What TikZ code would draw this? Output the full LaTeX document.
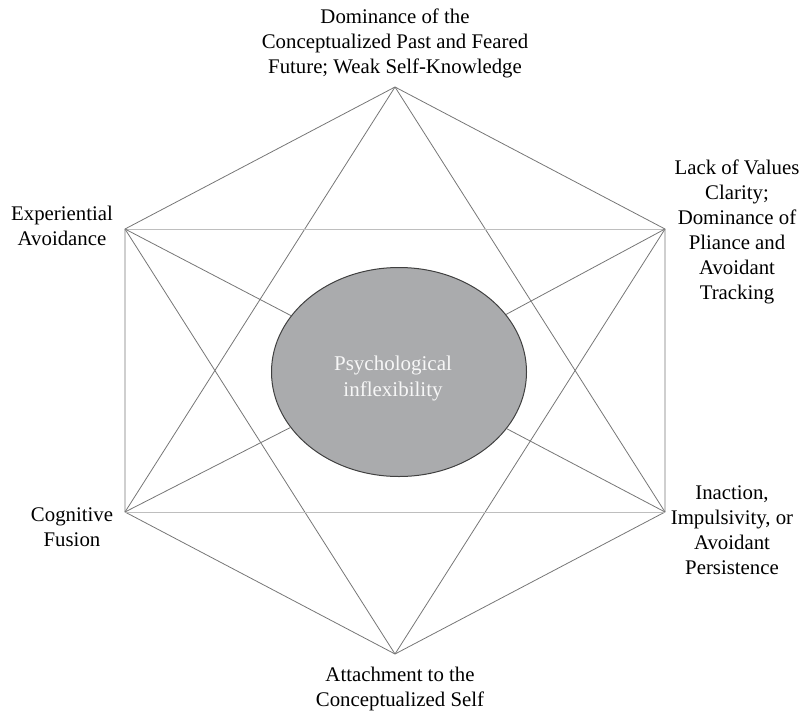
\documentclass[tikz,border=0pt]{standalone}
\usepackage{fontspec}
\setmainfont{Liberation Serif}
\usetikzlibrary{shapes.geometric}
\definecolor{psyfill}{RGB}{170,171,173}
\definecolor{edgegray}{RGB}{118,118,118}
\definecolor{faintgray}{RGB}{190,190,190}
\begin{document}
\begin{tikzpicture}[x=1pt,y=-1pt]

    \tikzstyle{edge}=[draw=edgegray, line width=0.8pt]
    \tikzstyle{faint}=[draw=faintgray, line width=1pt]
    \tikzstyle{lbl}=[align=center, inner sep=0pt, font=\fontsize{20.8}{25}\selectfont]
    \tikzstyle{core}=[ellipse, draw=black!75, line width=1pt, fill=psyfill, minimum width=255pt, minimum height=209pt, inner sep=0pt]
    \tikzstyle{coretxt}=[align=center, inner sep=0pt, text=white!94!gray, font=\fontsize{21}{26}\selectfont]

    \useasboundingbox (0,0) rectangle (805,712);

    % corners of the hexagon
    \coordinate (dom) at (395,87);
    \coordinate (val) at (665,229);
    \coordinate (inact) at (665,512);
    \coordinate (attach) at (395,654);
    \coordinate (fus) at (125,512);
    \coordinate (avoid) at (125,229);

    \node[core] (psy) at (399,372) {};
    \node[coretxt, xshift=-6pt, yshift=-6pt] (psytxt) at (psy) {Psychological\\inflexibility};

    % hexagon and the two triangles
    \draw[edge] (avoid) -- (dom) -- (val) -- (inact) -- (attach) -- (fus) -- cycle;
    \draw[edge] (dom) -- (fus);
    \draw[edge] (dom) -- (inact);
    \draw[edge] (attach) -- (avoid);
    \draw[edge] (attach) -- (val);
    \draw[faint] (avoid) -- (val);
    \draw[faint] (fus) -- (inact);
    \foreach \i in {avoid, val, fus, inact} {
        \draw[edge] (\i) -- (psy);
    }

    \node[lbl] (domlbl) at (395,43) {Dominance of the\\Conceptualized Past and Feared\\Future; Weak Self-Knowledge};
    \node[lbl] (vallbl) at (737,232) {Lack of Values\\Clarity;\\Dominance of\\Pliance and\\Avoidant\\Tracking};
    \node[lbl] (inactlbl) at (732,530) {Inaction,\\Impulsivity, or\\Avoidant\\Persistence};
    \node[lbl] (attachlbl) at (400,689) {Attachment to the\\Conceptualized Self};
    \node[lbl] (fuslbl) at (72,527) {Cognitive\\Fusion};
    \node[lbl] (avoidlbl) at (62,226) {Experiential\\Avoidance};

\end{tikzpicture}
\end{document}
